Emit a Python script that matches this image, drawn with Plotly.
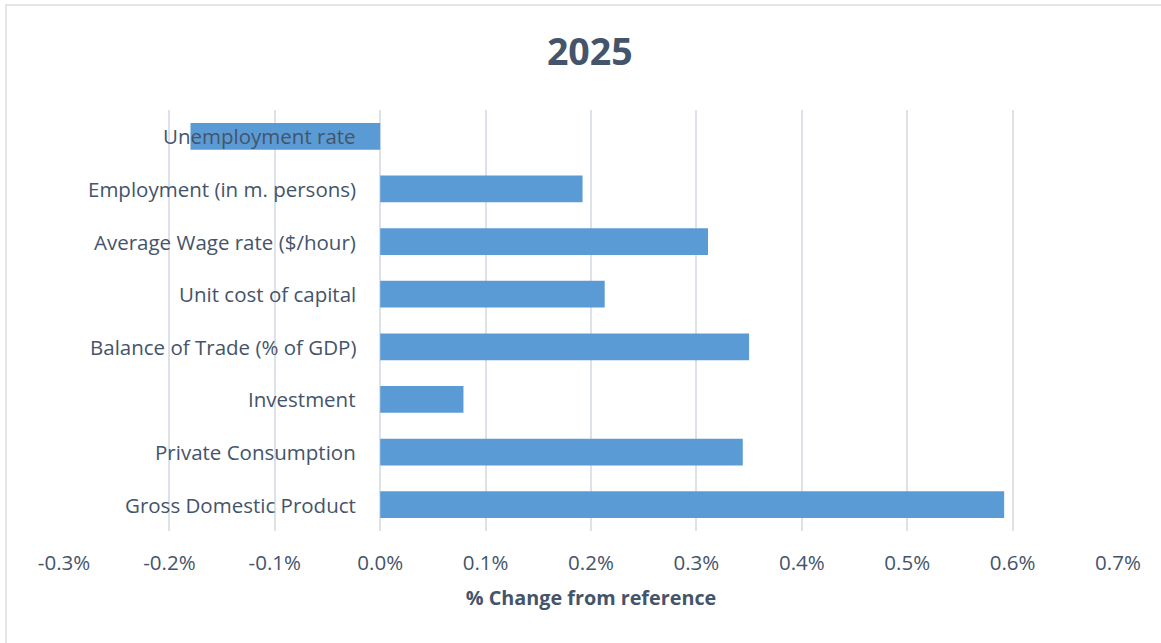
import plotly.graph_objects as go

# Indicators listed top to bottom, with their % change from the reference run
categories = [
    "Unemployment rate",
    "Employment (in m. persons)",
    "Average Wage rate ($/hour)",
    "Unit cost of capital",
    "Balance of Trade (% of GDP)",
    "Investment",
    "Private Consumption",
    "Gross Domestic Product",
]
pct_change = [-0.180, 0.192, 0.311, 0.213, 0.350, 0.079, 0.344, 0.592]

tick_values = [-0.3, -0.2, -0.1, 0.0, 0.1, 0.2, 0.3, 0.4, 0.5, 0.6, 0.7]
tick_labels = ["-0.3%", "-0.2%", "-0.1%", "0.0%", "0.1%", "0.2%", "0.3%",
               "0.4%", "0.5%", "0.6%", "0.7%"]

TEXT = "#44546a"
GRID = "#dde2e9"
FONT = "Open Sans"

fig = go.Figure()
fig.add_trace(go.Bar(
    x=pct_change,
    y=categories,
    orientation="h",
    marker=dict(color="#5b9bd5", line=dict(width=0)),
    hoverinfo="x+y",
))

# Category labels sit just left of the zero line, drawn over the bars
for cat in categories:
    fig.add_annotation(
        x=0, y=cat, xref="x", yref="y",
        text=cat, showarrow=False,
        xanchor="right", yanchor="middle", xshift=-22,
        font=dict(family=FONT, size=20.5, color=TEXT),
    )

L, R, T, B = 64, 43, 110, 112
W, H = 1161, 643
pw, ph = W - L - R, H - T - B

# Light chart-area border
fig.add_shape(
    type="rect", xref="paper", yref="paper",
    x0=(6 - L) / pw, x1=(W + 5 - L) / pw,
    y0=-(H + 5 - T - ph) / ph, y1=1 + (T - 5) / ph,
    line=dict(color="#d9dee5", width=1.5), fillcolor="rgba(0,0,0,0)",
    layer="below",
)

fig.update_layout(
    width=W, height=H,
    margin=dict(l=L, r=R, t=T, b=B, pad=0),
    paper_bgcolor="white", plot_bgcolor="white",
    bargap=0.49,
    showlegend=False,
    title=dict(
        text="<b>2025</b>", x=0.508, xanchor="center", y=1 - 52 / H, yanchor="middle",
        font=dict(family=FONT, size=37.5, color=TEXT),
    ),
    font=dict(family=FONT, color=TEXT),
    xaxis=dict(
        range=[-0.3, 0.7],
        tickvals=tick_values, ticktext=tick_labels,
        tickfont=dict(family=FONT, size=20.5, color=TEXT),
        showgrid=True, gridcolor=GRID, gridwidth=2,
        zeroline=True, zerolinecolor=GRID, zerolinewidth=2,
        showline=False, ticks="", ticklabelstandoff=17,
        title=dict(text="<b>% Change from reference</b>", standoff=16,
                   font=dict(family=FONT, size=19.8, color=TEXT)),
        fixedrange=True,
    ),
    yaxis=dict(
        autorange="reversed",
        showticklabels=False, showgrid=False, zeroline=False, showline=False,
        ticks="", fixedrange=True,
    ),
)

fig.write_html("out.html")
